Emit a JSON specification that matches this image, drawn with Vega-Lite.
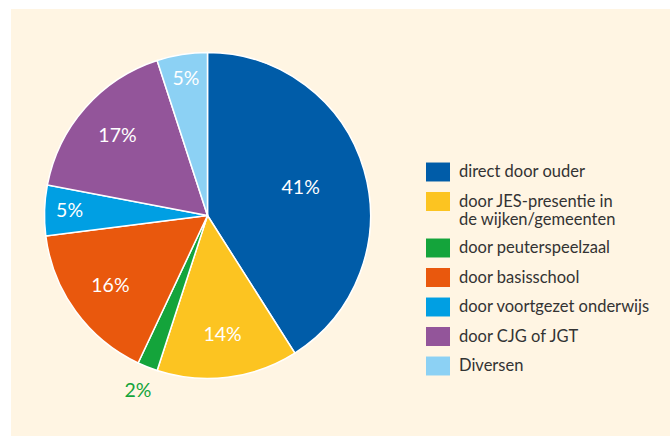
{
  "$schema": "https://vega.github.io/schema/vega-lite/v6.json",
  "width": 670,
  "height": 437,
  "autosize": {"type": "fit", "contains": "padding"},
  "padding": {"left": 11, "top": 9, "right": 0, "bottom": 1},
  "background": "#ffffff",
  "config": {"view": {"fill": "#fff5e3", "stroke": null}, "font": "Lato"},
  "data": {
    "values": [
      {"nr": 1, "categorie": "direct door ouder", "aandeel": 41, "label": "41%"},
      {"nr": 2, "categorie": "door JES-presentie in de wijken/gemeenten", "aandeel": 14, "label": "14%"},
      {"nr": 3, "categorie": "door peuterspeelzaal", "aandeel": 2, "label": "2%"},
      {"nr": 4, "categorie": "door basisschool", "aandeel": 16, "label": "16%"},
      {"nr": 5, "categorie": "door voortgezet onderwijs", "aandeel": 5, "label": "5%"},
      {"nr": 6, "categorie": "door CJG of JGT", "aandeel": 17, "label": "17%"},
      {"nr": 7, "categorie": "Diversen", "aandeel": 5, "label": "5%"}
    ]
  },
  "encoding": {
    "theta": {"field": "aandeel", "type": "quantitative", "stack": true},
    "order": {"field": "nr", "type": "quantitative"},
    "x": {"value": 196.5},
    "y": {"value": 206.5}
  },
  "layer": [
    {
      "mark": {"type": "arc", "radius": 163, "stroke": "#ffffff", "strokeWidth": 1.5},
      "encoding": {
        "color": {
          "field": "categorie",
          "type": "nominal",
          "scale": {
            "domain": ["direct door ouder", "door JES-presentie in de wijken/gemeenten", "door peuterspeelzaal", "door basisschool", "door voortgezet onderwijs", "door CJG of JGT", "Diversen"],
            "range": ["#005ca8", "#fcc421", "#14a43b", "#e9580d", "#009fe3", "#93559a", "#8cd1f4"]
          },
          "legend": {
            "orient": "none",
            "legendX": 415,
            "legendY": 151,
            "title": null,
            "padding": 0,
            "symbolType": "M-1,-0.79H1V0.79H-1Z",
            "symbolSize": 576,
            "symbolStrokeWidth": 0,
            "symbolOpacity": 1,
            "labelFont": "Lato",
            "labelFontSize": 16.5,
            "labelColor": "#333333",
            "labelOffset": 9,
            "labelLimit": 300,
            "rowPadding": 7.5,
            "labelExpr": "datum.label == 'door JES-presentie in de wijken/gemeenten' ? ['door JES-presentie in', 'de wijken/gemeenten'] : datum.label"
          }
        }
      }
    },
    {
      "mark": {"type": "text", "radius": 97, "fontSize": 19.5, "color": "#ffffff"},
      "encoding": {"text": {"condition": {"test": "datum.nr == 1", "field": "label"}, "value": ""}}
    },
    {
      "mark": {"type": "text", "radius": 120, "fontSize": 19.5, "color": "#ffffff"},
      "encoding": {"text": {"condition": {"test": "datum.nr == 2 || datum.nr == 4 || datum.nr == 6", "field": "label"}, "value": ""}}
    },
    {
      "mark": {"type": "text", "radius": 138, "fontSize": 19.5, "color": "#ffffff"},
      "encoding": {"text": {"condition": {"test": "datum.nr == 5 || datum.nr == 7", "field": "label"}, "value": ""}}
    },
    {
      "mark": {"type": "text", "radius": 189, "fontSize": 19.5, "color": "#14a43b"},
      "encoding": {"text": {"condition": {"test": "datum.nr == 3", "field": "label"}, "value": ""}}
    }
  ]
}
